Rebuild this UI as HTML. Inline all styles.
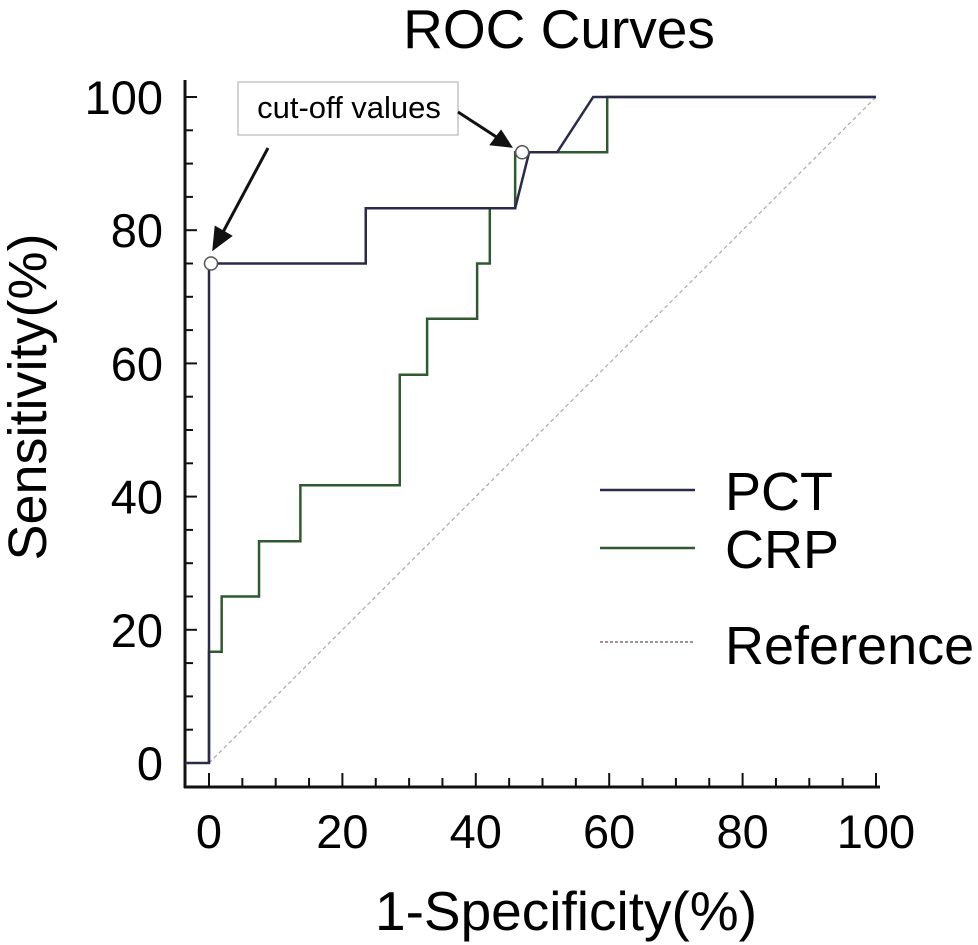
<!DOCTYPE html>
<html><head><meta charset="utf-8"><style>
body{margin:0;background:#fff}
svg{display:block;font-family:"Liberation Sans",sans-serif}
</style></head><body>
<svg id="c" width="978" height="945">
<text x="559" y="48" font-size="55" text-anchor="middle">ROC Curves</text>
<text x="566" y="930" font-size="55" text-anchor="middle">1-Specificity(%)</text>
<text transform="translate(46,397) rotate(-90)" font-size="54" text-anchor="middle">Sensitivity(%)</text>
<g id="axes"></g>
<g id="series"></g>
<rect x="238" y="82" width="220" height="53" fill="#fff" stroke="#aaa" stroke-width="1"/>
<text x="349" y="118" font-size="31" text-anchor="middle">cut-off values</text>
<g stroke="#111" stroke-width="3" fill="#111">
<line x1="268" y1="148" x2="222" y2="234"/>
<polygon points="214,248 216,228 230,236"/>
<line x1="458" y1="112" x2="498" y2="138"/>
<polygon points="510,146 492,144 501,132"/>
</g>
<g>
<line x1="600" y1="490" x2="695" y2="490" stroke="#2a2a4a" stroke-width="2.5"/>
<text x="725" y="510" font-size="54">PCT</text>
<line x1="600" y1="548" x2="695" y2="548" stroke="#2f5a2f" stroke-width="2.5"/>
<text x="725" y="568" font-size="54">CRP</text>
<line x1="600" y1="642" x2="695" y2="642" stroke="#8a6a6a" stroke-width="1.5" stroke-dasharray="3,2"/>
<text x="725" y="664" font-size="54">Reference</text>
</g>
</svg>
<script>
const xTicks=[0,20,40,60,80,100];
const yTicks=[0,20,40,60,80,100];
const pctX=[0,0,23.5,23.5,45.9,48,52.2,57.6,100];
const pctY=[0,75,75,83.3,83.3,91.7,91.7,100,100];
const crpX=[0,0,1.9,1.9,7.5,7.5,13.7,13.7,28.6,28.6,32.7,32.7,40.2,40.2,42.1,42.1,45.9,45.9,59.7,59.7,100];
const crpY=[0,16.7,16.7,25,25,33.3,33.3,41.7,41.7,58.3,58.3,66.7,66.7,75,75,83.3,83.3,91.7,91.7,100,100];
const refX=[0,100];
const refY=[0,100];
const cutX=[0,48];
const cutY=[75,91.7];
const NS="http://www.w3.org/2000/svg";
const X=v=>209+v*6.67, Y=v=>763-v*6.66;
function el(t,a,p){const e=document.createElementNS(NS,t);for(const k in a)e.setAttribute(k,a[k]);p.appendChild(e);return e;}
const ax=document.getElementById('axes'), se=document.getElementById('series');
let e=el('line',{x1:185,y1:80,x2:185,y2:788,stroke:'#111','stroke-width':3},ax);


e=el('line',{x1:184,y1:787,x2:880,y2:787,stroke:'#111','stroke-width':3},ax);


for(let v=0;v<=100;v+=5){
 let m=v%20===0;
 e=el('line',{x1:185,y1:Y(v),x2:185+(m?12:8),y2:Y(v),stroke:'#111','stroke-width':2},ax);
 
 
 e=el('line',{x1:X(v),y1:787,x2:X(v),y2:787-(m?14:9),stroke:'#111','stroke-width':2},ax);
 
 
}
yTicks.forEach(v=>{e=el('text',{x:163,y:Y(v)+17,'font-size':47,'text-anchor':'end'},ax);e.textContent=v;
 
 });
xTicks.forEach(v=>{e=el('text',{x:X(v),y:848,'font-size':47,'text-anchor':'middle'},ax);e.textContent=v;
 
 });
const pts=(xs,ys)=>xs.map((x,i)=>X(x)+','+Y(ys[i])).join(' ');
e=el('polyline',{points:pts(refX,refY),fill:'none',stroke:'#aaa','stroke-width':1.2,'stroke-dasharray':'4,3'},se);


e=el('polyline',{points:pts(crpX,crpY),fill:'none',stroke:'#2f5a2f','stroke-width':2.5},se);


e=el('polyline',{points:'185,'+Y(0)+' '+pts(pctX,pctY),fill:'none',stroke:'#2a2a4a','stroke-width':2.5},se);


cutX.forEach((x,i)=>{e=el('circle',{cx:X(x)+(i?-7:2),cy:Y(cutY[i]),r:6.5,fill:'#fff',stroke:'#555','stroke-width':1.5},se);
 
 });
</script>
</body></html>
